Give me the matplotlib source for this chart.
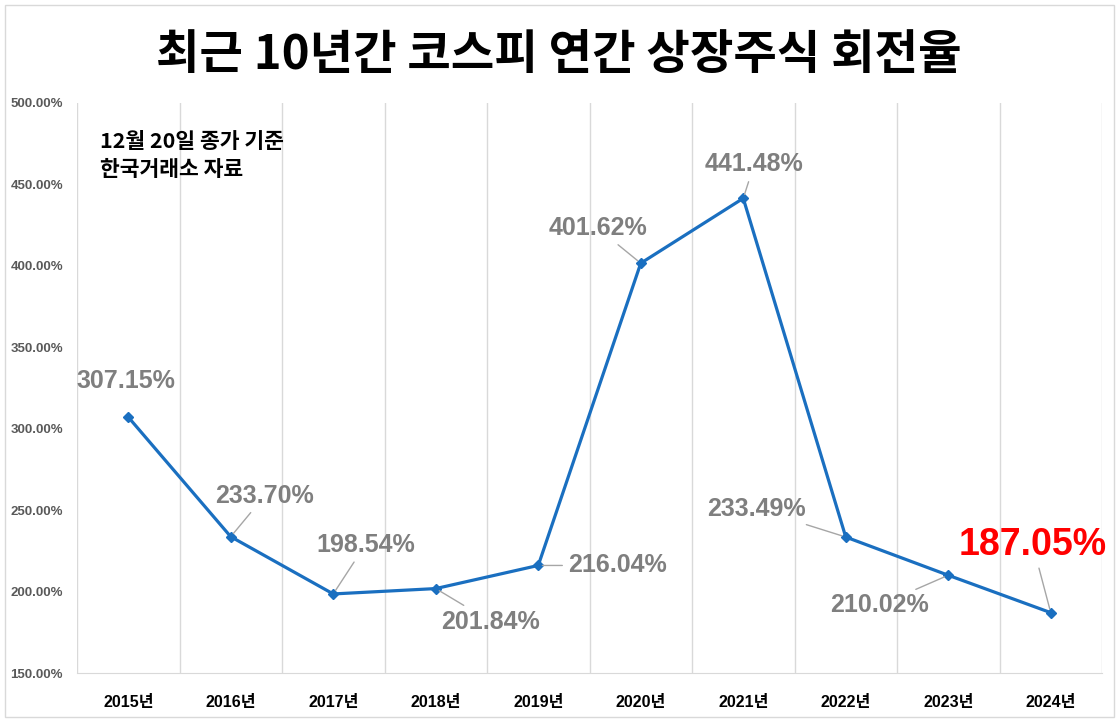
import matplotlib.pyplot as plt
from matplotlib.patches import Rectangle

plt.rcParams['font.family'] = ['Liberation Sans', 'Noto Sans CJK KR']

years = ["2015년", "2016년", "2017년", "2018년", "2019년",
         "2020년", "2021년", "2022년", "2023년", "2024년"]
turnover = [307.15, 233.70, 198.54, 201.84, 216.04,
            401.62, 441.48, 233.49, 210.02, 187.05]
value_labels = ["307.15%", "233.70%", "198.54%", "201.84%", "216.04%",
                "401.62%", "441.48%", "233.49%", "210.02%", "187.05%"]
y_ticks = [150, 200, 250, 300, 350, 400, 450, 500]

# label offsets in pixels from each point
offsets = [(-2, 36), (34, 41), (32, 49), (55, -33), (79, 0),
           (-43, 35), (11, 34), (-89, 28), (-69, -30), (-18, 68)]

fig = plt.figure(figsize=(11.18, 7.27), dpi=100)
ax = fig.add_axes([77/1118, 1 - 673/727, (1102 - 77)/1118, (673 - 103)/727])

x = list(range(len(years)))
ax.plot(x, turnover, color='#1a6fc0', linewidth=2.3, marker='D', markersize=5,
        zorder=3)

for i, (v, lab, off) in enumerate(zip(turnover, value_labels, offsets)):
    last = i == len(turnover) - 1
    arrow = None if i == 0 else dict(arrowstyle='-', color='#a6a6a6', lw=1,
                                     shrinkA=2, shrinkB=3)
    ax.annotate(lab, (i, v), xytext=off, textcoords='offset pixels',
                ha='center', va='center',
                fontsize=27 if last else 18, fontweight='bold',
                color='#ff0000' if last else '#7f7f7f',
                arrowprops=arrow, zorder=4)

ax.set_xlim(-0.5, len(years) - 0.5)
ax.set_ylim(150, 500)
ax.set_xticks(x)
ax.set_xticklabels(years, fontsize=11.5, fontweight='bold')
ax.set_yticks(y_ticks)
ax.set_yticklabels([f"{t:.2f}%" for t in y_ticks], fontsize=9.5,
                   fontweight='bold', color='#595959')
ax.tick_params(length=0)
ax.tick_params(axis='x', pad=16)
ax.tick_params(axis='y', pad=10)

for b in range(len(years) + 1):
    ax.axvline(b - 0.5, color='#d9d9d9', lw=1, zorder=1)
for s in ['top', 'right', 'left']:
    ax.spines[s].set_visible(False)
ax.spines['bottom'].set_color('#d9d9d9')

ax.text(0.022, 0.95, "12월 20일 종가 기준\n한국거래소 자료", transform=ax.transAxes,
        fontsize=15.5, fontweight='bold', va='top', ha='left', linespacing=1.4,
        family=['Noto Sans CJK KR'])

fig.text(0.5, 1 - 55/727, "최근 10년간 코스피 연간 상장주식 회전율",
         ha='center', va='center', fontsize=34, fontweight='heavy',
         family=['Noto Sans CJK KR'])

fig.patches.append(Rectangle((5/1118, 1 - 717/727), 1109/1118, 712/727,
                             transform=fig.transFigure, fill=False,
                             edgecolor='#d9d9d9', lw=1))

fig.savefig("out.png", dpi=100)
